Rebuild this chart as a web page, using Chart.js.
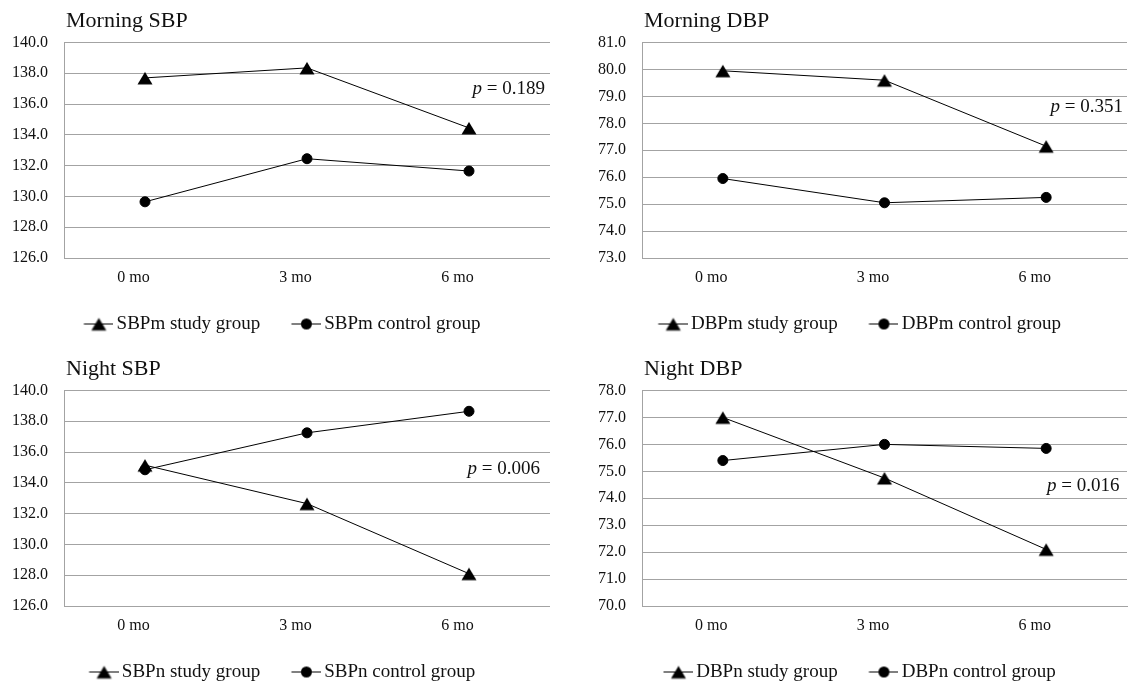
<!DOCTYPE html>
<html>
<head>
<meta charset="utf-8">
<script src="https://cdn.jsdelivr.net/npm/chart.js@4"></script>
<style>
  html, body { margin: 0; padding: 0; background: #fff; overflow: hidden; }
  body { width: 1129px; height: 691px; position: relative; }
  canvas { position: absolute; }
</style>
</head>
<body>
<canvas id="mSbp" width="550" height="344" style="left:0;top:0"></canvas>
<canvas id="mDbp" width="551" height="344" style="left:578px;top:0"></canvas>
<canvas id="nSbp" width="550" height="344" style="left:0;top:348px"></canvas>
<canvas id="nDbp" width="551" height="344" style="left:578px;top:348px"></canvas>
<script>
// four small panels: morning / night blood pressure, study vs control group

const months = ['0 mo', '3 mo', '6 mo'];

const sbpmStudy = [137.7, 138.35, 134.45];
const sbpmControl = [129.65, 132.45, 131.65];
const dbpmStudy = [79.95, 79.6, 77.15];
const dbpmControl = [75.95, 75.05, 75.25];
const sbpnStudy = [135.15, 132.65, 128.1];
const sbpnControl = [134.85, 137.25, 138.65];
const dbpnStudy = [77.0, 74.75, 72.1];
const dbpnControl = [75.4, 76.0, 75.85];

const pValues = ['0.189', '0.351', '0.006', '0.016'];

const FONT = "'Liberation Serif', 'Times New Roman', serif";
const GRID = '#a3a3a3';
const INK = '#111';

// excel-like triangle, centred on the point (chart.js' own one sits higher)
function triangleMark() {
  const c = document.createElement('canvas');
  c.width = 18; c.height = 18;
  const g = c.getContext('2d');
  g.fillStyle = '#000';
  g.beginPath(); g.moveTo(9, 3); g.lineTo(16.5, 15.5); g.lineTo(1.5, 15.5); g.closePath();
  g.fill();
  return c;
}
const triMark = triangleMark();

// little line+marker icon for the legend
function legendIcon(style) {
  const c = document.createElement('canvas');
  c.width = 50; c.height = 18;
  const g = c.getContext('2d');
  g.strokeStyle = '#000'; g.fillStyle = '#000'; g.lineWidth = 1;
  g.beginPath(); g.moveTo(20.5, 8.5); g.lineTo(50, 8.5); g.stroke();
  const cx = 35.5;
  if (style === 'triangle') {
    g.drawImage(triMark, cx - 9, -0.5);
  } else {
    g.beginPath(); g.arc(cx, 8.5, 5.5, 0, Math.PI * 2); g.fill();
  }
  return c;
}
const icons = { triangle: legendIcon('triangle'), circle: legendIcon('circle') };

const panelText = {
  id: 'panelText',
  afterDraw(chart, args, opts) {
    const { ctx, chartArea } = chart;
    ctx.save();
    ctx.fillStyle = INK;
    ctx.textBaseline = 'alphabetic';
    ctx.textAlign = 'left';
    ctx.font = `22px ${FONT}`;
    ctx.fillText(opts.title, chartArea.left + 2, chartArea.top - 15.5);

    // p-value note, right aligned inside the plot
    const y = chart.scales.y.getPixelForValue(opts.pAt);
    ctx.textBaseline = 'middle';
    ctx.font = `19px ${FONT}`;
    const rest = ' = ' + opts.p;
    const wRest = ctx.measureText(rest).width;
    ctx.font = `italic 19px ${FONT}`;
    const wP = ctx.measureText('p').width;
    const x0 = chartArea.right - opts.inset - wRest - wP;
    ctx.fillText('p', x0, y);
    ctx.font = `19px ${FONT}`;
    ctx.fillText(rest, x0 + wP, y);
    ctx.restore();
  }
};

function panel(id, { title, study, control, names, min, max, step, p, pAt, inset, padRight }) {
  const line = (label, data, style, r) => ({
    label, data, pointStyle: style,
    borderColor: '#000', borderWidth: 1, tension: 0,
    pointRadius: r, pointHoverRadius: r,
    pointBackgroundColor: '#000', pointBorderColor: '#000', pointBorderWidth: 1
  });
  return new Chart(document.getElementById(id), {
    type: 'line',
    data: {
      labels: months,
      datasets: [line(names[0], study, triMark, 8), line(names[1], control, 'circle', 5)]
    },
    plugins: [panelText],
    options: {
      responsive: false, animation: false,
      layout: { autoPadding: false, padding: { top: 42.5, right: padRight, bottom: 0, left: 0 } },
      scales: {
        x: {
          offset: true,
          grid: { display: false, drawTicks: false },
          border: { display: true, color: GRID, width: 1 },
          ticks: {
            color: INK, padding: 1.5, labelOffset: -11.5,
            font: { family: FONT, size: 16, lineHeight: '37px' }
          }
        },
        y: {
          min, max,
          afterFit(scale) { scale.width = 64; },
          grid: { color: GRID, drawTicks: false },
          border: { display: true, color: GRID, width: 1 },
          ticks: {
            stepSize: step, color: INK, padding: 16,
            font: { family: FONT, size: 16 },
            callback: v => v.toFixed(1)
          }
        }
      },
      plugins: {
        tooltip: { enabled: false },
        panelText: { title, p, pAt, inset },
        legend: {
          position: 'bottom',
          labels: {
            usePointStyle: true, pointStyleWidth: 37.5, padding: 17,
            color: INK, font: { family: FONT, size: 19 },
            generateLabels(chart) {
              const items = Chart.defaults.plugins.legend.labels.generateLabels(chart);
              items.forEach((it, i) => { it.pointStyle = i === 0 ? icons.triangle : icons.circle; });
              return items;
            }
          }
        }
      }
    }
  });
}

panel('mSbp', {
  title: 'Morning SBP', study: sbpmStudy, control: sbpmControl,
  names: ['SBPm study group', 'SBPm control group'],
  min: 126, max: 140, step: 2, p: pValues[0], pAt: 137.0, inset: 5, padRight: 0
});
panel('mDbp', {
  title: 'Morning DBP', study: dbpmStudy, control: dbpmControl,
  names: ['DBPm study group', 'DBPm control group'],
  min: 73, max: 81, step: 1, p: pValues[1], pAt: 78.6, inset: 4, padRight: 2
});
panel('nSbp', {
  title: 'Night SBP', study: sbpnStudy, control: sbpnControl,
  names: ['SBPn study group', 'SBPn control group'],
  min: 126, max: 140, step: 2, p: pValues[2], pAt: 134.9, inset: 10, padRight: 0
});
panel('nDbp', {
  title: 'Night DBP', study: dbpnStudy, control: dbpnControl,
  names: ['DBPn study group', 'DBPn control group'],
  min: 70, max: 78, step: 1, p: pValues[3], pAt: 74.45, inset: 7.5, padRight: 2
});
</script>
</body>
</html>
